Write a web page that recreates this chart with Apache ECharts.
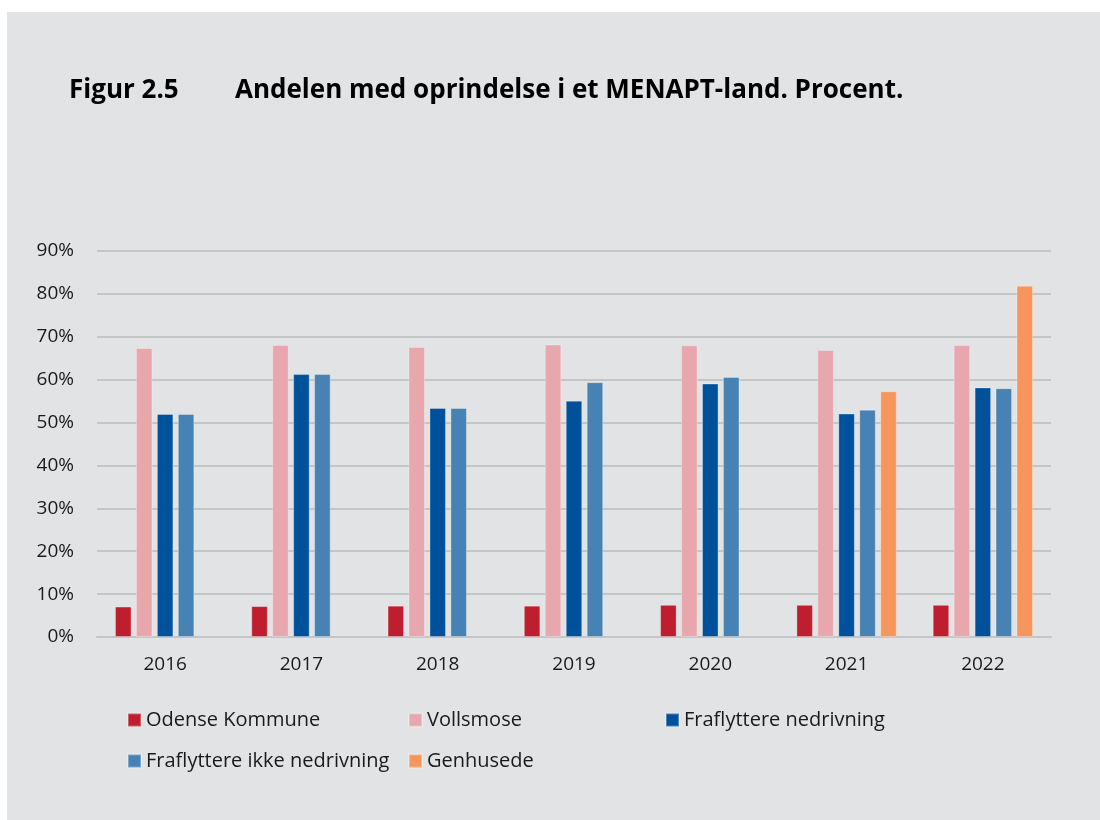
<!DOCTYPE html>
<html>
<head>
<meta charset="utf-8">
<title>Figur 2.5</title>
<script src="https://cdn.jsdelivr.net/npm/echarts@6/dist/echarts.min.js"></script>
<style>
    html, body { margin: 0; padding: 0; background: #ffffff; }
    #chart { width: 1100px; height: 820px; }
</style>
</head>
<body>
<div id="chart"></div>
<script type="text/javascript">
// data (procent)
var years = ['2016', '2017', '2018', '2019', '2020', '2021', '2022'];
var odense = [7.1, 7.2, 7.3, 7.3, 7.5, 7.5, 7.5];
var vollsmose = [67.4, 68.1, 67.6, 68.2, 68.0, 66.9, 68.1];
var fraflNedrivning = [52.0, 61.3, 53.4, 55.1, 59.1, 52.1, 58.2];
var fraflIkkeNedrivning = [52.0, 61.3, 53.4, 59.4, 60.6, 53.0, 58.0];
var genhusede = [null, null, null, null, null, 57.3, 81.9];
var yTicks = [0, 10, 20, 30, 40, 50, 60, 70, 80, 90];

var seriesNames = ['Odense Kommune', 'Vollsmose', 'Fraflyttere nedrivning', 'Fraflyttere ikke nedrivning', 'Genhusede'];
var seriesData = [odense, vollsmose, fraflNedrivning, fraflIkkeNedrivning, genhusede];
var colors = ['#be1e2d', '#e8a6ad', '#00519b', '#4682b4', '#f6955c'];

var chart = echarts.init(document.getElementById('chart'));

var font = '"Open Sans", "Noto Sans", sans-serif';

// legend: en komponent pr. punkt, saa kolonnerne ligger fast
var legendPos = [[127, 710], [408, 710], [665, 710], [127, 751], [408, 751]];
var legends = seriesNames.map(function (name, i) {
    return {
        data: [name],
        left: legendPos[i][0],
        top: legendPos[i][1],
        padding: 0,
        icon: 'rect',
        itemWidth: 13,
        itemHeight: 13,
        itemGap: 0,
        selectedMode: false,
        textStyle: { fontFamily: font, fontSize: 20, color: '#1a1a1a' }
    };
});

var option = {
    backgroundColor: '#ffffff',
    animation: false,
    color: colors,
    graphic: [
        {
            type: 'rect',
            z: -10,
            silent: true,
            shape: { x: 7, y: 12, width: 1093, height: 808 },
            style: { fill: '#e2e3e5' }
        }
    ],
    title: [
        {
            text: 'Figur 2.5',
            left: 69,
            top: 78,
            padding: 0,
            textStyle: { fontFamily: font, fontSize: 26, fontWeight: 'bold', color: '#000000' }
        },
        {
            text: 'Andelen med oprindelse i et MENAPT-land. Procent.',
            left: 235,
            top: 78,
            padding: 0,
            textStyle: { fontFamily: font, fontSize: 26, fontWeight: 'bold', color: '#000000' }
        }
    ],
    legend: legends,
    grid: {
        left: 97,
        right: 49,
        top: 251,
        bottom: 183,
        containLabel: false
    },
    xAxis: {
        type: 'category',
        data: years,
        axisLine: { show: true, lineStyle: { color: '#c4c5c7', width: 2 } },
        axisTick: { show: false },
        axisLabel: { fontFamily: font, fontSize: 19, color: '#1a1a1a', margin: 18 }
    },
    yAxis: {
        type: 'value',
        min: yTicks[0],
        max: yTicks[yTicks.length - 1],
        interval: 10,
        axisLine: { show: false },
        axisTick: { show: false },
        axisLabel: { fontFamily: font, fontSize: 19, color: '#1a1a1a', margin: 23, formatter: '{value}%' },
        splitLine: { lineStyle: { color: '#c4c5c7', width: 2 } }
    },
    series: seriesNames.map(function (name, i) {
        return {
            name: name,
            type: 'bar',
            data: seriesData[i],
            barWidth: 16.5,
            barGap: '27%',
            itemStyle: {
                color: colors[i],
                borderColor: 'rgba(255,255,255,0.3)',
                borderWidth: 1
            }
        };
    })
};

chart.setOption(option);
</script>
</body>
</html>
